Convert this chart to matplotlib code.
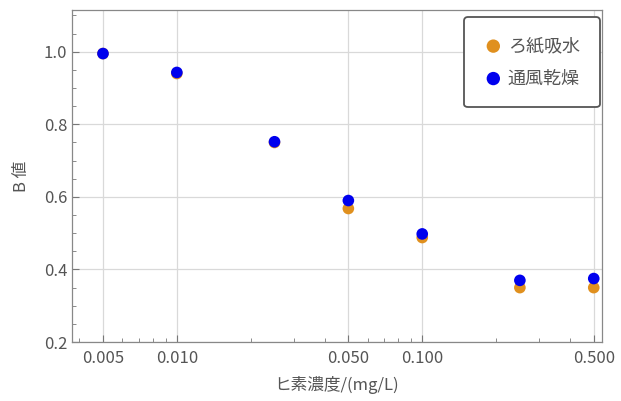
import matplotlib
matplotlib.use("Agg")
import matplotlib.pyplot as plt
from matplotlib.ticker import FixedLocator, LogLocator, NullFormatter, MultipleLocator

plt.rcParams['font.family'] = ['Noto Sans CJK JP', 'DejaVu Sans']

conc = [0.005, 0.010, 0.025, 0.050, 0.100, 0.250, 0.500]
filter_paper = [0.995, 0.94, 0.75, 0.568, 0.488, 0.350, 0.350]
ventilation = [0.995, 0.943, 0.752, 0.590, 0.498, 0.370, 0.375]
labels = ['ろ紙吸水', '通風乾燥']
xticks = [0.005, 0.010, 0.050, 0.100, 0.500]
xticklabels = ['0.005', '0.010', '0.050', '0.100', '0.500']
yticks = [0.2, 0.4, 0.6, 0.8, 1.0]

fig = plt.figure(figsize=(6.21, 4.01), dpi=100)
ax = fig.add_axes([0.116, 0.147, 0.853, 0.828])
ax.set_xscale('log')
ax.set_xlim(0.00374, 0.539)
ax.set_ylim(0.2, 1.115)

for v in xticks:
    ax.axvline(v, color='#d9d9d9', lw=0.9, zorder=0)
for v in yticks:
    ax.axhline(v, color='#d9d9d9', lw=0.9, zorder=0)

ax.scatter(conc, filter_paper, s=70, color='#E0901E', zorder=3, label=labels[0], edgecolors='none')
ax.scatter(conc, ventilation, s=70, color='#0000EE', zorder=4, label=labels[1], edgecolors='none')

ax.xaxis.set_major_locator(FixedLocator(xticks))
ax.set_xticklabels(xticklabels)
ax.xaxis.set_minor_locator(LogLocator(base=10, subs=range(1, 10), numticks=20))
ax.xaxis.set_minor_formatter(NullFormatter())
ax.yaxis.set_major_locator(FixedLocator(yticks))
ax.set_yticklabels([f'{v:.1f}' for v in yticks])
ax.yaxis.set_minor_locator(MultipleLocator(0.05))

ax.tick_params(which='both', direction='in', colors='#777777', labelcolor='#555555', labelsize=12)
ax.tick_params(which='major', length=5, width=0.8)
ax.tick_params(which='minor', length=3, width=0.6)
ax.tick_params(axis='x', pad=6)
for s in ax.spines.values():
    s.set_color('#888888')
    s.set_linewidth(0.9)

ax.set_xlabel('ヒ素濃度/(mg/L)', fontsize=12, color='#555555', labelpad=6)
ax.set_ylabel('B 値', fontsize=12, color='#555555', labelpad=10)

leg = ax.legend(loc='upper right', bbox_to_anchor=(0.996, 0.979), borderaxespad=0,
                fontsize=13, frameon=True, fancybox=True, edgecolor='#555555',
                handletextpad=0.3, borderpad=1.1, labelspacing=0.8, markerscale=1.15,
                handlelength=1.0, framealpha=1.0)
leg.get_frame().set_linewidth(1.3)
for t in leg.get_texts():
    t.set_color('#555555')

fig.savefig('out.png', dpi=100)
